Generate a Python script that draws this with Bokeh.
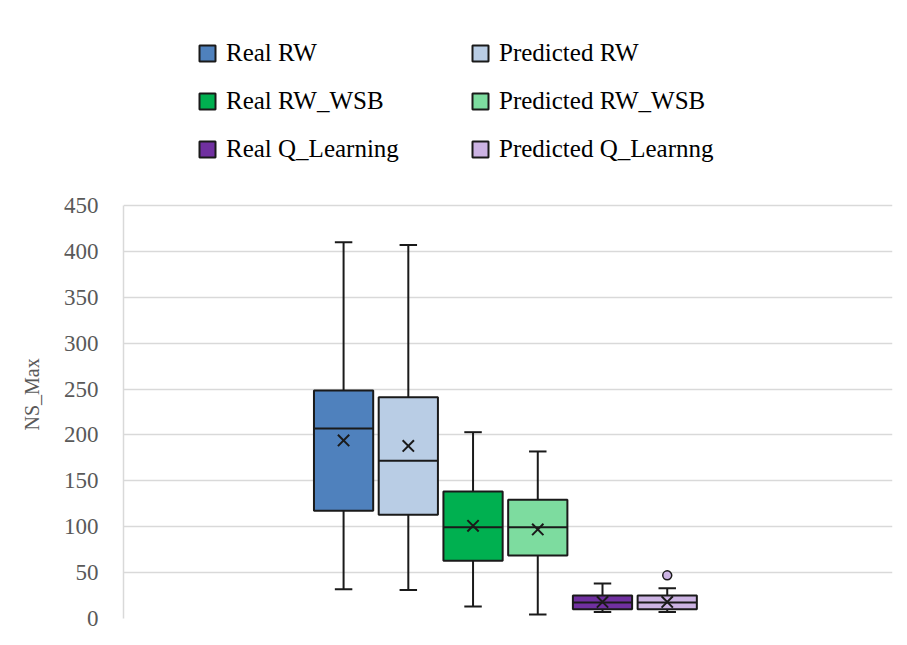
from bokeh.plotting import figure
from bokeh.models import Range1d, FixedTicker, Legend, LegendItem, ColumnDataSource, Title
from bokeh.embed import file_html
from bokeh.resources import INLINE

# ---- data ----
series = ["Real RW", "Predicted RW", "Real RW_WSB", "Predicted RW_WSB",
          "Real Q_Learning", "Predicted Q_Learnng"]
whisker_low = [32, 31, 13, 4.4, 7, 7]
q1 = [117.5, 113, 63, 68.6, 10, 10]
median = [207, 172, 99.5, 99.5, 17.5, 17.5]
q3 = [248.5, 241, 138.5, 129.5, 25, 25]
whisker_high = [410, 407, 203, 182, 38, 33]
mean = [194, 188, 101, 97, 18, 18]
outlier_series = [5]
outlier_values = [47]
y_ticks = [0, 50, 100, 150, 200, 250, 300, 350, 400, 450]
y_label = "NS_Max"

colors = ["#4F81BD", "#B9CDE5", "#00B050", "#7DDC9F", "#7030A0", "#CCB3E3"]
edge = "#1a1a1a"
FONT = "'Liberation Serif', 'Times New Roman', serif"

positions = [i - 2.5 for i in range(len(series))]
box_w = 0.915
cap_w = 0.27

# layout: value axis 0..450 spans 413 px; frame extends above it to hold the legend
frame_top, frame_bottom, axis_top = 10, 618, 205
y_max = 450
y_end = y_max * (frame_bottom - frame_top) / (frame_bottom - axis_top)

p = figure(width=900, height=640, output_backend="svg", toolbar_location=None,
           x_range=Range1d(-5.90, 5.98), y_range=Range1d(0, y_end),
           min_border_left=122, min_border_right=8, min_border_top=frame_top,
           min_border_bottom=640 - frame_bottom)
p.outline_line_color = None
p.background_fill_color = "white"
p.border_fill_color = "white"
p.xaxis.visible = False
p.xgrid.visible = False

p.yaxis.bounds = (0, y_max)
p.yaxis.ticker = FixedTicker(ticks=y_ticks)
p.yaxis.major_tick_line_color = None
p.yaxis.minor_tick_line_color = None
p.yaxis.axis_line_color = "#d9d9d9"
p.yaxis.axis_line_width = 1.5
p.yaxis.major_label_text_font = FONT
p.yaxis.major_label_text_font_size = "23px"
p.yaxis.major_label_text_color = "#595959"
p.yaxis.major_label_standoff = 19
p.ygrid.grid_line_color = "#d9d9d9"
p.ygrid.grid_line_width = 1.5

# axis title, placed beside the 0..450 part of the axis
ttl = Title(text=y_label, align="left", offset=188, vertical_align="bottom",
            text_font=FONT, text_font_size="20px", text_font_style="normal",
            text_color="#595959", standoff=36)
p.add_layout(ttl, "left")

# whiskers (vertical)
x_all = positions
p.segment(x0=x_all, y0=q3, x1=x_all, y1=whisker_high, line_color=edge, line_width=2)
p.segment(x0=x_all, y0=whisker_low, x1=x_all, y1=q1, line_color=edge, line_width=2)
# caps
p.segment(x0=[x - cap_w / 2 for x in x_all], y0=whisker_high,
          x1=[x + cap_w / 2 for x in x_all], y1=whisker_high, line_color=edge, line_width=2)
p.segment(x0=[x - cap_w / 2 for x in x_all], y0=whisker_low,
          x1=[x + cap_w / 2 for x in x_all], y1=whisker_low, line_color=edge, line_width=2)

box_renderers = []
for i, name in enumerate(series):
    src = ColumnDataSource(dict(left=[positions[i] - box_w / 2], right=[positions[i] + box_w / 2],
                                bottom=[q1[i]], top=[q3[i]]))
    r = p.quad(left="left", right="right", bottom="bottom", top="top", source=src,
               fill_color=colors[i], line_color=edge, line_width=2)
    box_renderers.append(r)

# medians
p.segment(x0=[x - box_w / 2 for x in x_all], y0=median,
          x1=[x + box_w / 2 for x in x_all], y1=median, line_color=edge, line_width=2)
# means
p.scatter(x=x_all, y=mean, marker="x", size=16, line_color=edge, line_width=2)
# outliers
p.scatter(x=[positions[i] for i in outlier_series], y=outlier_values, marker="circle", size=9,
          fill_color=[colors[i] for i in outlier_series], line_color=edge, line_width=1.5)

def make_legend(idx, loc):
    leg = Legend(items=[LegendItem(label=series[i], renderers=[box_renderers[i]]) for i in idx],
                 location=loc, orientation="vertical")
    leg.label_text_font = FONT
    leg.label_text_font_size = "25px"
    leg.label_text_color = "black"
    leg.glyph_width = 20
    leg.glyph_height = 20
    leg.label_height = 28
    leg.label_standoff = 9
    leg.spacing = 20
    leg.padding = 0
    leg.margin = 0
    leg.border_line_alpha = 0
    leg.background_fill_alpha = 0
    return leg

p.add_layout(make_legend([0, 2, 4], (74, 455)))
p.add_layout(make_legend([1, 3, 5], (347, 455)))

open("out.html", "w").write(file_html(p, INLINE))
